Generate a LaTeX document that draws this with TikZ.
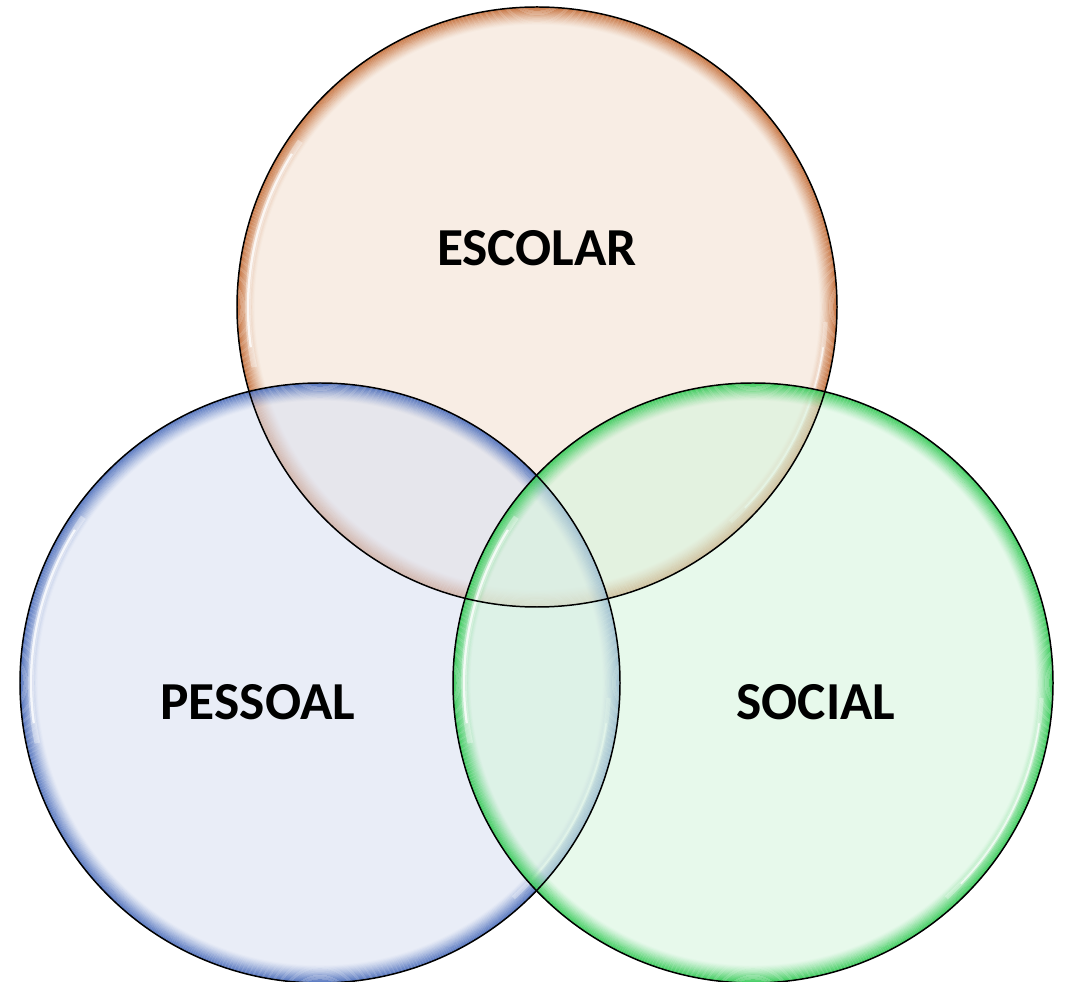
\documentclass[tikz,border=0pt]{standalone}
\usepackage{fontspec}
\setmainfont{Carlito}
\usepackage{tikz}
\usetikzlibrary{positioning}

\definecolor{fillescolar}{RGB}{243,225,210}
\definecolor{edgeescolar}{RGB}{195,105,50}
\definecolor{fillpessoal}{RGB}{218,225,242}
\definecolor{edgepessoal}{RGB}{70,105,185}
\definecolor{fillsocial}{RGB}{215,245,222}
\definecolor{edgesocial}{RGB}{45,200,80}

\tikzset{
	vennset/.style={circle, minimum size=15cm, inner sep=0pt, fill=#1, fill opacity=0.6},
	venntext/.style={font=\fontsize{38}{45}\selectfont\bfseries, text=black}
}

\begin{document}
\begin{tikzpicture}[x=0.025cm,y=0.025cm]
		\useasboundingbox (0,0) rectangle (1066,981);
		\foreach \n/\x/\y in {escolar/537/674, pessoal/320/298, social/753/298}{
			\node[vennset=fill\n] (\n) at (\x,\y) {};
			\foreach \k [evaluate=\k as \op using 0.95*(1-\k/17)^1.3] in {1,...,16}
				\draw[edge\n, line width=0.8pt, draw opacity=\op] (\n.center) circle ({300.6-1.1*\k});
			\draw[white, line width=4pt, draw opacity=0.35] (\n.center) ++(145:289) arc (145:192:289);
			\draw[white, line width=1.6pt, draw opacity=0.8] (\n.center) ++(148:289) arc (148:188:289);
			\draw[white, line width=3pt, draw opacity=0.3] (\n.center) ++(-48:289) arc (-48:-3:289);
			\draw[white, line width=1.2pt, draw opacity=0.7] (\n.center) ++(-44:289) arc (-44:-8:289);
		}
		\foreach \n in {escolar, pessoal, social}
			\draw[black, line width=1.06pt] (\n.center) circle (300);
		\node[venntext] (escolartext) at (537,733) {ESCOLAR};
		\node[venntext] (pessoaltext) at (258,279) {PESSOAL};
		\node[venntext] (socialtext) at (816,279) {SOCIAL};
	\end{tikzpicture}
\end{document}
